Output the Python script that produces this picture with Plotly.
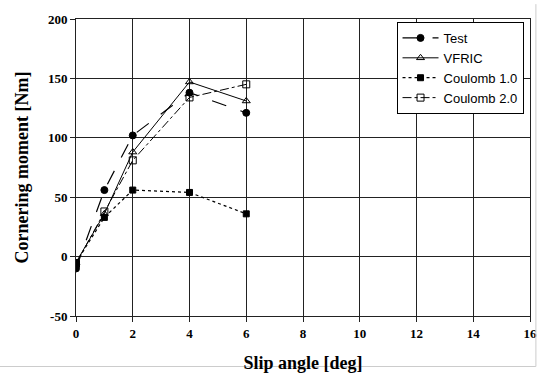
import plotly.graph_objects as go

slip_angle = [0, 1, 2, 4, 6]
test = [-10, 56, 102, 138, 121]
vfric = [-5, 36, 88, 147, 131]
coulomb_1 = [-5, 33, 56, 54, 36]
coulomb_2 = [-6, 38, 81, 134, 145]

y_ticks = [-50, 0, 50, 100, 150, 200]
y_tick_text = ["-50", "0", "50", "100", "150", "200"]

series = [
    ("Test", test, dict(dash="longdash", width=1.2), dict(symbol="circle", size=7, color="black")),
    ("VFRIC", vfric, dict(dash="solid", width=1), dict(symbol="triangle-up-open", size=7, color="black")),
    ("Coulomb 1.0", coulomb_1, dict(dash="dot", width=1.2), dict(symbol="square", size=6, color="black")),
    ("Coulomb 2.0", coulomb_2, dict(dash="dashdot", width=1), dict(symbol="square-open", size=7, color="black")),
]

fig = go.Figure()
for name, vals, line, marker in series:
    fig.add_trace(go.Scatter(
        x=slip_angle, y=vals, name=name, mode="lines+markers",
        line=dict(color="black", **line), marker=dict(line=dict(color="black", width=1), **marker),
    ))

axis_common = dict(
    showgrid=True, gridcolor="#222", gridwidth=1,
    zeroline=False, showline=True, linecolor="#222", linewidth=1, mirror=True,
    ticks="outside", ticklen=5, tickcolor="#222",
    tickfont=dict(family="Liberation Serif", size=13, color="black", weight="bold"),
)

fig.update_layout(
    width=549, height=381,
    margin=dict(l=76, r=14, t=14, b=63),
    paper_bgcolor="white", plot_bgcolor="white",
    xaxis=dict(range=[0, 16], dtick=2, **axis_common,
               title=dict(text="Slip angle [deg]", standoff=16,
                          font=dict(family="Liberation Serif", size=18, color="black", weight="bold"))),
    yaxis=dict(range=[-50, 200], tickvals=y_ticks, ticktext=y_tick_text, **axis_common,
               title=dict(text="Cornering moment [Nm]", standoff=14,
                          font=dict(family="Liberation Serif", size=18, color="black", weight="bold"))),
    legend=dict(x=0.706, y=0.99, xanchor="left", yanchor="top",
                bgcolor="white", bordercolor="black", borderwidth=1,
                font=dict(family="Liberation Sans", size=13, color="black"),
                tracegroupgap=0, itemwidth=36),
    showlegend=True,
)

# light frame along the right and bottom edge of the figure
fig.add_shape(type="line", xref="paper", yref="paper", x0=1.013, x1=1.013, y0=-0.17, y1=1.05,
              line=dict(color="#ccc", width=1))
fig.add_shape(type="line", xref="paper", yref="paper", x0=-0.17, x1=1.013, y0=-0.17, y1=-0.17,
              line=dict(color="#ccc", width=1))

fig.write_html("out.html")
